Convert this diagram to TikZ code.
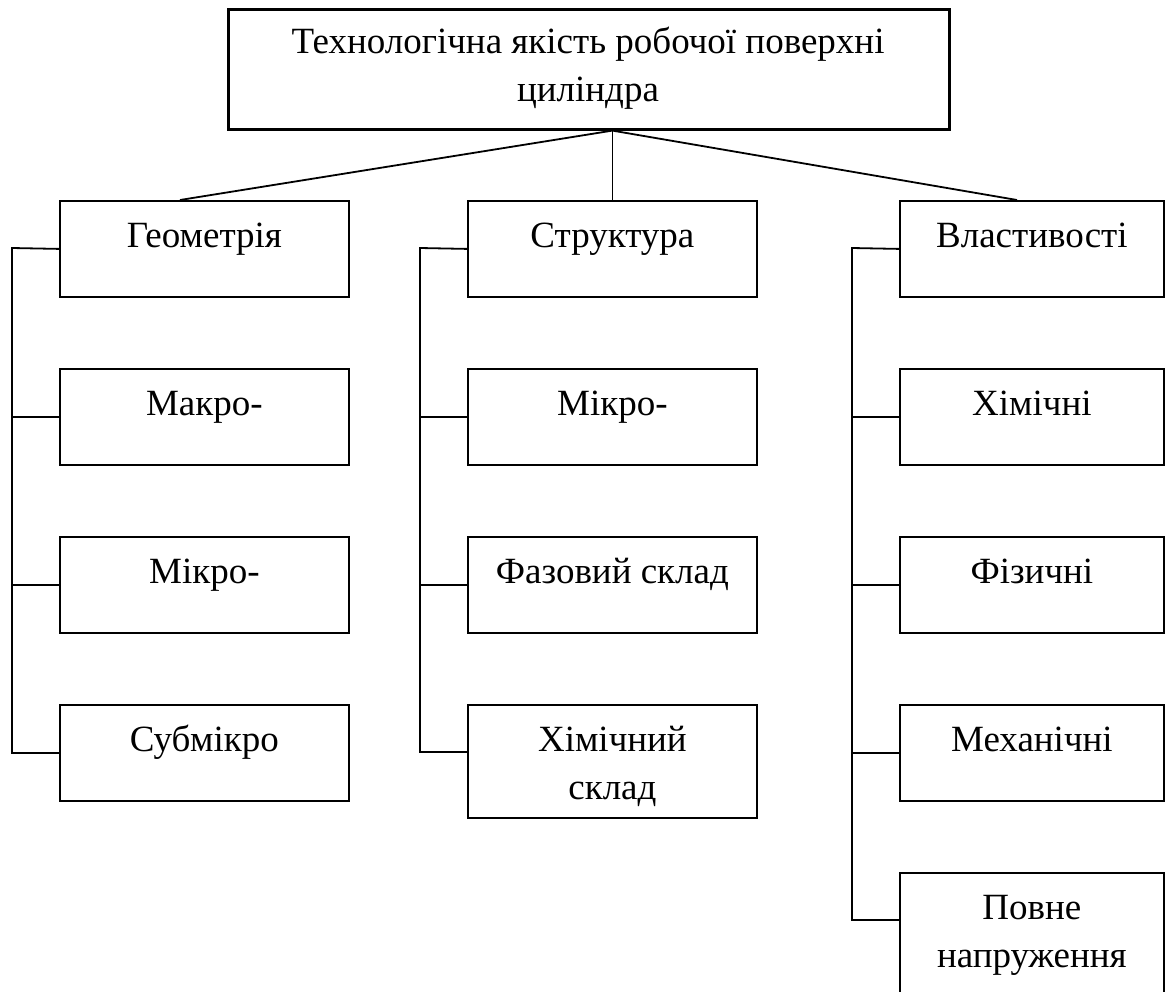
\documentclass[tikz,border=0pt]{standalone}
\usepackage{fontspec}
\setmainfont{Liberation Serif}
\begin{document}
\begin{tikzpicture}[x=1pt,y=-1pt,
  box/.style={draw, line width=1.8pt, minimum width=289pt, minimum height=96pt, anchor=north west, inner sep=0pt},
  boxr/.style={box, minimum width=264pt},
  topbox/.style={draw, line width=2.6pt, minimum width=721pt, minimum height=120pt, anchor=north west, inner sep=0pt},
  lbl/.style={font=\fontsize{37}{48}\selectfont, anchor=base, align=center, inner sep=0pt},
  con/.style={line width=1.8pt}]
\useasboundingbox (0,0) rectangle (1165,991);
% top
\node[topbox] (top) at (227,8) {};
\node[lbl] (topt) at (588,101) {Технологічна якість робочої поверхні\\циліндра};
% column 1
\node[box] (g0) at (59,200) {};
\node[box] (g1) at (59,368) {};
\node[box] (g2) at (59,536) {};
\node[box] (g3) at (59,704) {};
\node[lbl] (g0t) at ([yshift=-47pt]g0.north) {Геометрія};
\node[lbl] (g1t) at ([yshift=-47pt]g1.north) {Макро-};
\node[lbl] (g2t) at ([yshift=-47pt]g2.north) {Мікро-};
\node[lbl] (g3t) at ([yshift=-47pt]g3.north) {Субмікро};
% column 2
\node[box] (s0) at (467,200) {};
\node[box] (s1) at (467,368) {};
\node[box] (s2) at (467,536) {};
\node[box, minimum height=113pt] (s3) at (467,704) {};
\node[lbl] (s0t) at ([yshift=-47pt]s0.north) {Структура};
\node[lbl] (s1t) at ([yshift=-47pt]s1.north) {Мікро-};
\node[lbl] (s2t) at ([yshift=-47pt]s2.north) {Фазовий склад};
\node[lbl] (s3t) at ([yshift=-95pt]s3.north) {Хімічний\\склад};
% column 3
\node[boxr] (v0) at (899,200) {};
\node[boxr] (v1) at (899,368) {};
\node[boxr] (v2) at (899,536) {};
\node[boxr] (v3) at (899,704) {};
\node[boxr, minimum height=140pt] (v4) at (899,872) {};
\node[lbl] (v0t) at ([yshift=-47pt]v0.north) {Властивості};
\node[lbl] (v1t) at ([yshift=-47pt]v1.north) {Хімічні};
\node[lbl] (v2t) at ([yshift=-47pt]v2.north) {Фізичні};
\node[lbl] (v3t) at ([yshift=-47pt]v3.north) {Механічні};
\node[lbl] (v4t) at ([yshift=-95pt]v4.north) {Повне\\напруження};
% connectors from top
\coordinate (hub) at (s0.north |- top.south);
\coordinate (g0in) at (180,200);
\coordinate (v0in) at (1017,200);
\draw[con] (hub) -- (g0in);
\draw[con] (hub) -- (s0.north);
\draw[con] (hub) -- (v0in);
% buses
\coordinate (gbus) at (12,248);
\coordinate (sbus) at (420,248);
\coordinate (vbus) at (852,248);
\coordinate (vend) at (852,920);
\draw[con] (g0.west) -- (gbus) |- (g3.west);
\draw[con] (g1.west) -- (g1.west -| gbus);
\draw[con] (g2.west) -- (g2.west -| gbus);
\draw[con] (s0.west) -- (sbus) |- ([yshift=-48pt]s3.north west);
\draw[con] (s1.west) -- (s1.west -| sbus);
\draw[con] (s2.west) -- (s2.west -| sbus);
\draw[con] (v0.west) -- (vbus) -- (vend) -- (vend -| v4.west);
\draw[con] (v1.west) -- (v1.west -| vbus);
\draw[con] (v2.west) -- (v2.west -| vbus);
\draw[con] (v3.west) -- (v3.west -| vbus);
\end{tikzpicture}
\end{document}
